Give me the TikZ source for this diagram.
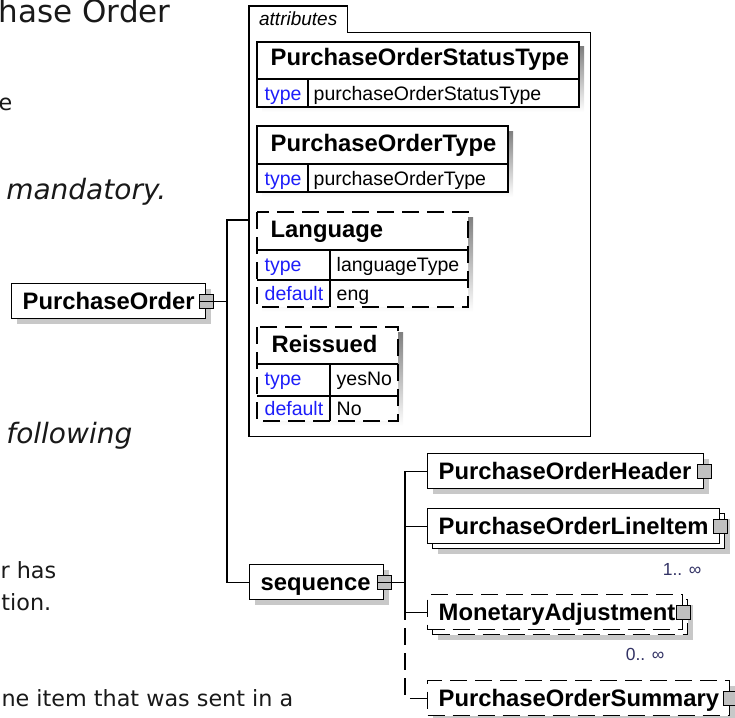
\documentclass[tikz,border=0pt]{standalone}
\usepackage{fontspec}
\setmainfont{Liberation Sans}
\newfontfamily\docfont{DejaVu Sans}[ItalicFont={DejaVu Sans Oblique}]
\usetikzlibrary{shadows}
\definecolor{keyblue}{RGB}{30,30,250}
\definecolor{occblue}{RGB}{50,50,100}
\definecolor{shade}{RGB}{200,200,200}
\definecolor{boxgray}{RGB}{192,192,192}
\newcommand\namefont{\fontsize{23.8}{27}\selectfont\bfseries}
\newcommand\cellfont{\fontsize{19.5}{23}\selectfont}

\begin{document}
\begin{tikzpicture}[x=1pt,y=-1pt,line width=1.4pt,
  elem/.style={draw,fill=white,anchor=north west,inner xsep=11pt,inner ysep=0pt,
    minimum height=35pt,text height=16.5pt,text depth=0pt,align=left,font=\namefont,
    drop shadow={shadow xshift=5pt,shadow yshift=-5pt,fill=shade,opacity=1}},
  multi/.style={drop shadow={shadow xshift=10pt,shadow yshift=-10pt,fill=shade,opacity=1},
    copy shadow={shadow xshift=5pt,shadow yshift=-5pt}},
  opt/.style={dash pattern=on 17pt off 8pt},
  plus/.style={draw,fill=boxgray,minimum size=14pt,inner sep=0pt,line width=1.2pt},
  occ/.style={anchor=base east,inner sep=0pt,text=occblue,font=\fontsize{17.5}{20}\selectfont},
  attname/.style={anchor=base west,inner sep=0pt,font=\namefont},
  attkey/.style={anchor=base west,inner sep=0pt,text=keyblue,font=\cellfont},
  attval/.style={anchor=base west,inner sep=0pt,font=\cellfont},
  doc/.style={anchor=base east,inner sep=0pt,text=black!90,font=\docfont\fontsize{22.3}{27}\selectfont},
  docit/.style={doc,font=\docfont\fontsize{28}{32}\selectfont\itshape},
]
\useasboundingbox (0,0) rectangle (735,717);

% text of the page behind the diagram
\node[doc,anchor=base west,font=\docfont\fontsize{31}{36}\selectfont] (doc-head) at (-2,23) {hase Order};
\node[doc] (doc-e) at (13,110) {e};
\node[docit] (doc-mand) at (167,199) {mandatory.};
\node[docit] (doc-foll) at (133,443) {following};
\node[doc] (doc-has) at (57,578) {r has};
\node[doc] (doc-tion) at (52,610) {tion.};
\node[doc] (doc-item) at (294,706) {ne item that was sent in a};

% attributes frame
\node[anchor=north west,minimum width=340pt,minimum height=429pt,inner sep=0pt] (attrs) at (249,6) {};
\node[anchor=north west,minimum width=97pt,minimum height=25pt,inner sep=0pt,
  font=\fontsize{19}{22}\selectfont\itshape] (attrs-tab) at (attrs.north west) {attributes};
\draw[line width=1.2pt] (attrs.south west) -- (attrs-tab.north west) -- (attrs-tab.north east)
  -- (attrs-tab.south east) -- (attrs-tab.south east -| attrs.east) -- (attrs.south east) -- cycle;

% PurchaseOrderStatusType
\fill[shade] (262,47) rectangle (584,112);
\draw[fill=white] (257,42) rectangle (579,107);
\draw (257,79) -- (579,79) (308,79) -- (308,107);
\node[attname] (st) at (270,66) {PurchaseOrderStatusType};
\node[attkey] (st-key) at (264,100) {type};
\node[attval] (st-val) at (313,100) {purchaseOrderStatusType};

% PurchaseOrderType
\fill[shade] (262,131) rectangle (513,197);
\draw[fill=white] (257,126) rectangle (508,192);
\draw (257,164) -- (508,164) (308,164) -- (308,192);
\node[attname] (ty) at (270,151) {PurchaseOrderType};
\node[attkey] (ty-key) at (264,185) {type};
\node[attval] (ty-val) at (313,185) {purchaseOrderType};

% Language
\fill[shade] (262,217) rectangle (473,312);
\draw[opt,fill=white] (257,212) rectangle (468,307);
\draw (257,250) -- (468,250) (257,280) -- (468,280) (330,250) -- (330,307);
\node[attname] (lang) at (270,237) {Language};
\node[attkey] (lang-key) at (264,271) {type};
\node[attval] (lang-val) at (336,271) {languageType};
\node[attkey] (lang-dkey) at (264,300) {default};
\node[attval] (lang-dval) at (336,300) {eng};

% Reissued
\fill[shade] (262,332) rectangle (403,426);
\draw[opt,fill=white] (257,327) rectangle (398,421);
\draw (257,364) -- (398,364) (257,396) -- (398,396) (330,364) -- (330,421);
\node[attname] (reis) at (271,352) {Reissued};
\node[attkey] (reis-key) at (264,385) {type};
\node[attval] (reis-val) at (336,385) {yesNo};
\node[attkey] (reis-dkey) at (264,415) {default};
\node[attval] (reis-dval) at (336,415) {No};

% elements
\node[elem,text width=172pt] (po) at (11,283) {PurchaseOrder};
\node[plus] (po-sq) at (po.east) {};
\node[elem,text width=112pt] (seq) at (249,564) {sequence};
\node[plus] (seq-sq) at (seq.east) {};
\node[elem,text width=254pt] (hdr) at (427,453) {PurchaseOrderHeader};
\node[plus] (hdr-sq) at (hdr.east) {};
\node[elem,multi,text width=270pt] (line) at (427,508) {PurchaseOrderLineItem};
\node[plus] (line-sq) at (line.east) {};
\node[elem,multi,opt,text width=233pt] (adj) at (427,594) {MonetaryAdjustment};
\node[plus] (adj-sq) at (adj.east) {};
\node[elem,opt,text width=280pt] (sum) at (427,680) {PurchaseOrderSummary};
\node[plus] (sum-sq) at (sum.east) {};

\node[occ] (line-occ) at (702,575) {1.. ∞};
\node[occ] (adj-occ) at (665,660) {0.. ∞};

% connectors
\coordinate (po-bus) at (227,220);
\draw (po-sq.west) -- (po-sq -| po-bus);
\draw (attrs.west |- po-bus) -- (po-bus) |- (seq.west);

\coordinate (seq-bus) at (405,603);
\draw (seq-sq.west) -- (seq-sq -| seq-bus);
\draw (hdr.west) -| (seq-bus);
\draw (line.west) -- (line.west -| seq-bus);
\draw (adj.west) -- (adj.west -| seq-bus);
\draw[opt] (seq-bus) |- (sum.west);
\end{tikzpicture}
\end{document}
